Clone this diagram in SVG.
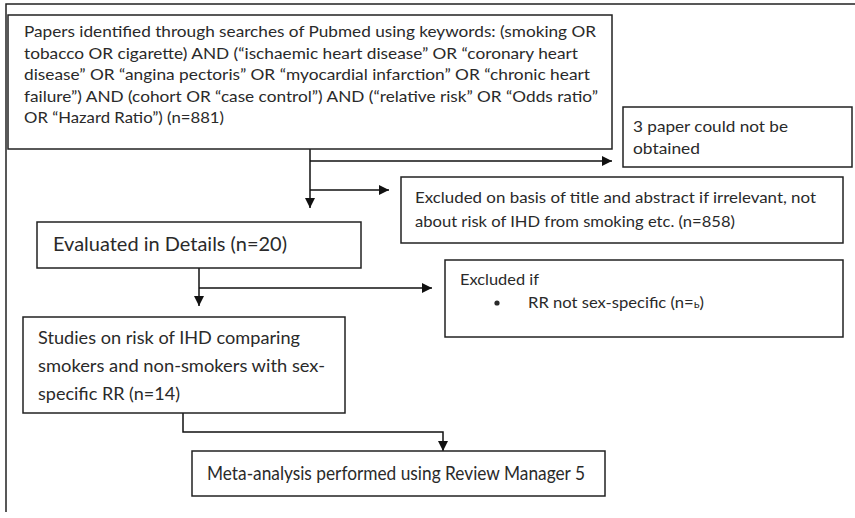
<svg xmlns="http://www.w3.org/2000/svg" width="855" height="518" viewBox="0 0 855 518">
<style>
.box{fill:#fff;stroke:#222;stroke-width:1.5}
.frame{fill:none;stroke:#222;stroke-width:1.5}
.ln{fill:none;stroke:#111;stroke-width:1.5}
text{font-family:Lato,"Open Sans","Liberation Sans",sans-serif;fill:#2a2a2a}
.s{font-size:15px}
.m{font-size:18px}
.l{font-size:19px}
</style>
<defs>
<marker id="ah" viewBox="0 0 10 10" refX="10" refY="5" markerWidth="10" markerHeight="10" markerUnits="userSpaceOnUse" orient="auto">
<path d="M0,0 L10,5 L0,10 z" fill="#111"/>
</marker>
</defs>
<rect width="855" height="518" fill="#fff"/>
<g id="frame">
<path class="frame" d="M6,512 V4 H855"/>
</g>
<g id="connectors">
<path class="ln" d="M310,149 V208" marker-end="url(#ah)"/>
<path class="ln" d="M310,161 H612" marker-end="url(#ah)"/>
<path class="ln" d="M310,190 H389" marker-end="url(#ah)"/>
<path class="ln" d="M199,268 V306" marker-end="url(#ah)"/>
<path class="ln" d="M199,288 H432" marker-end="url(#ah)"/>
<path class="ln" d="M183,413 V432 H443 V451" marker-end="url(#ah)"/>
</g>
<g id="search">
<rect class="box" x="8" y="15" width="604" height="134"/>
<text class="s" x="24" y="37" textLength="572" lengthAdjust="spacingAndGlyphs">Papers identified through searches of Pubmed using keywords: (smoking OR</text>
<text class="s" x="24" y="58.5" textLength="554" lengthAdjust="spacingAndGlyphs">tobacco OR cigarette) AND (“ischaemic heart disease” OR “coronary heart</text>
<text class="s" x="24" y="80" textLength="566" lengthAdjust="spacingAndGlyphs">disease” OR “angina pectoris” OR “myocardial infarction” OR “chronic heart</text>
<text class="s" x="24" y="101.5" textLength="574" lengthAdjust="spacingAndGlyphs">failure”) AND (cohort OR “case control”) AND (“relative risk” OR “Odds ratio”</text>
<text class="s" x="24" y="123" textLength="200" lengthAdjust="spacingAndGlyphs">OR “Hazard Ratio”) (n=881)</text>
</g>
<g id="not-obtained">
<rect class="box" x="623" y="107" width="229" height="60"/>
<text class="s" x="633" y="132" textLength="155" lengthAdjust="spacingAndGlyphs">3 paper could not be</text>
<text class="s" x="633" y="154" textLength="67" lengthAdjust="spacingAndGlyphs">obtained</text>
</g>
<g id="excluded-title">
<rect class="box" x="401" y="177" width="442" height="66"/>
<text class="s" x="415" y="203" textLength="401" lengthAdjust="spacingAndGlyphs">Excluded on basis of title and abstract if irrelevant, not</text>
<text class="s" x="415" y="227" textLength="320" lengthAdjust="spacingAndGlyphs">about risk of IHD from smoking etc. (n=858)</text>
</g>
<g id="evaluated">
<rect class="box" x="37" y="222" width="324" height="46"/>
<text class="l" x="53" y="251" textLength="234" lengthAdjust="spacingAndGlyphs">Evaluated in Details (n=20)</text>
</g>
<g id="excluded-sex">
<rect class="box" x="445" y="260" width="398" height="77"/>
<text class="s" x="460" y="285" textLength="79" lengthAdjust="spacingAndGlyphs">Excluded if</text>
<circle cx="497" cy="303" r="2.6" fill="#2a2a2a"/>
<text class="s" x="528" y="308" textLength="176" lengthAdjust="spacingAndGlyphs">RR not sex-specific (n=<tspan font-size="11px">ь</tspan>)</text>
</g>
<g id="studies">
<rect class="box" x="23" y="317" width="322" height="96"/>
<text class="m" x="38" y="344" textLength="262" lengthAdjust="spacingAndGlyphs">Studies on risk of IHD comparing</text>
<text class="m" x="38" y="372" textLength="287" lengthAdjust="spacingAndGlyphs">smokers and non-smokers with sex-</text>
<text class="m" x="38" y="400" textLength="142" lengthAdjust="spacingAndGlyphs">specific RR (n=14)</text>
</g>
<g id="meta">
<rect class="box" x="192" y="451" width="413" height="45"/>
<text class="l" x="207" y="480" textLength="378" lengthAdjust="spacingAndGlyphs">Meta-analysis performed using Review Manager 5</text>
</g>
</svg>
